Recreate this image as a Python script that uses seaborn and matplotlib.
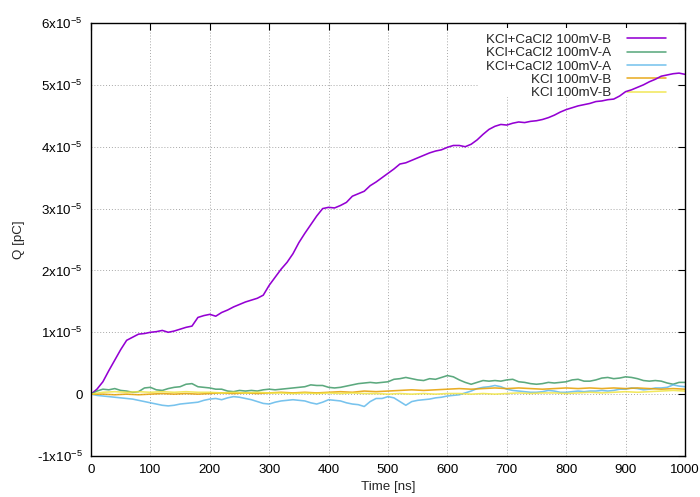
import numpy as np
import matplotlib
matplotlib.use("Agg")
import matplotlib.pyplot as plt
import seaborn as sns
from matplotlib.patches import Rectangle
from matplotlib.ticker import FixedLocator, FuncFormatter

# Charge traces Q(t), values in units of 1e-5 pC
SCALE = 1e-5

time_10ns = np.arange(0, 1001, 10)
time_20ns = np.arange(0, 1001, 20)

q_cacl2_b = [
    0.00, 0.08, 0.20, 0.38, 0.55, 0.72, 0.87, 0.92, 0.97, 0.98,
    1.00, 1.01, 1.03, 1.00, 1.02, 1.05, 1.08, 1.10, 1.24, 1.27,
    1.29, 1.26, 1.32, 1.36, 1.41, 1.45, 1.49, 1.52, 1.55, 1.60,
    1.76, 1.89, 2.02, 2.13, 2.27, 2.45, 2.60, 2.74, 2.88, 3.00,
    3.02, 3.01, 3.05, 3.10, 3.20, 3.24, 3.28, 3.37, 3.43, 3.50,
    3.57, 3.64, 3.72, 3.74, 3.78, 3.82, 3.86, 3.90, 3.93, 3.95,
    3.99, 4.02, 4.02, 4.00, 4.04, 4.11, 4.20, 4.28, 4.33, 4.36,
    4.35, 4.38, 4.40, 4.39, 4.41, 4.42, 4.44, 4.47, 4.51, 4.56,
    4.60, 4.63, 4.66, 4.68, 4.70, 4.73, 4.74, 4.76, 4.77, 4.82,
    4.89, 4.92, 4.96, 5.00, 5.05, 5.09, 5.14, 5.16, 5.18, 5.19,
    5.17,
]

q_cacl2_a1 = [
    0.00, 0.05, 0.08, 0.07, 0.09, 0.06, 0.05, 0.03, 0.04, 0.10,
    0.11, 0.07, 0.06, 0.09, 0.11, 0.12, 0.16, 0.17, 0.12, 0.11,
    0.10, 0.08, 0.08, 0.05, 0.04, 0.06, 0.05, 0.06, 0.05, 0.07,
    0.08, 0.07, 0.08, 0.09, 0.10, 0.11, 0.12, 0.15, 0.14, 0.14,
    0.11, 0.10, 0.11, 0.13, 0.15, 0.17, 0.18, 0.19, 0.18, 0.19,
    0.20, 0.24, 0.25, 0.27, 0.25, 0.23, 0.22, 0.25, 0.24, 0.27,
    0.30, 0.28, 0.23, 0.19, 0.16, 0.19, 0.22, 0.21, 0.22, 0.21,
    0.23, 0.24, 0.20, 0.19, 0.17, 0.16, 0.17, 0.19, 0.18, 0.19,
    0.20, 0.23, 0.24, 0.21, 0.21, 0.23, 0.26, 0.27, 0.25, 0.26,
    0.28, 0.27, 0.25, 0.22, 0.21, 0.22, 0.21, 0.18, 0.16, 0.19,
    0.19,
]

q_cacl2_a2 = [
    0.00, -0.02, -0.03, -0.04, -0.05, -0.06, -0.07, -0.08, -0.10, -0.12,
    -0.14, -0.16, -0.18, -0.19, -0.18, -0.16, -0.15, -0.14, -0.13, -0.10,
    -0.08, -0.07, -0.09, -0.06, -0.04, -0.05, -0.07, -0.09, -0.12, -0.15,
    -0.16, -0.13, -0.11, -0.10, -0.09, -0.10, -0.11, -0.14, -0.16, -0.13,
    -0.09, -0.10, -0.11, -0.14, -0.16, -0.17, -0.20, -0.12, -0.07, -0.07,
    -0.04, -0.06, -0.12, -0.18, -0.12, -0.10, -0.09, -0.08, -0.06, -0.05,
    -0.03, -0.02, -0.01, 0.02, 0.05, 0.09, 0.11, 0.12, 0.14, 0.12,
    0.08, 0.06, 0.05, 0.04, 0.03, 0.03, 0.04, 0.06, 0.05, 0.03,
    0.03, 0.04, 0.05, 0.04, 0.05, 0.05, 0.06, 0.05, 0.06, 0.08,
    0.08, 0.10, 0.09, 0.07, 0.08, 0.10, 0.10, 0.11, 0.15, 0.13,
    0.12,
]

q_kcl_b1 = [
    0.00, 0.00, -0.01, 0.00, -0.01, 0.00, 0.01, 0.00, 0.01, 0.00,
    0.01, 0.02, 0.01, 0.02, 0.01, 0.02, 0.03, 0.02, 0.03, 0.02,
    0.03, 0.04, 0.03, 0.05, 0.04, 0.05, 0.06, 0.07, 0.06, 0.07,
    0.08, 0.09, 0.08, 0.09, 0.10, 0.09, 0.10, 0.09, 0.08, 0.09,
    0.10, 0.09, 0.10, 0.09, 0.10, 0.09, 0.10, 0.09, 0.08, 0.09,
    0.08,
]

q_kcl_b2 = [
    0.00, 0.03, 0.04, 0.03, 0.04, 0.03, 0.04, 0.03, 0.04, 0.03,
    0.03, 0.02, 0.03, 0.02, 0.03, 0.02, 0.02, 0.01, 0.02, 0.01,
    0.02, 0.01, 0.02, 0.01, 0.01, 0.00, 0.01, 0.00, 0.01, 0.00,
    0.01, 0.01, 0.00, 0.01, 0.00, 0.01, 0.02, 0.01, 0.02, 0.02,
    0.01, 0.02, 0.03, 0.02, 0.03, 0.04, 0.03, 0.04, 0.05, 0.06,
    0.05,
]

series = [
    ("KCl+CaCl2 100mV-B", time_10ns, q_cacl2_b, "#9400d3", 1.0),
    ("KCl+CaCl2 100mV-A", time_10ns, q_cacl2_a1, "#3f9a68", 0.85),
    ("KCl+CaCl2 100mV-A", time_10ns, q_cacl2_a2, "#56b4e9", 0.8),
    ("KCl 100mV-B", time_20ns, q_kcl_b1, "#e69f00", 0.85),
    ("KCl 100mV-B", time_20ns, q_kcl_b2, "#f0e442", 0.85),
]

x_ticks = [0, 100, 200, 300, 400, 500, 600, 700, 800, 900, 1000]
y_ticks = [-1, 0, 1, 2, 3, 4, 5, 6]

sns.set_theme(style="white")
plt.rcParams["font.family"] = ["Liberation Sans", "DejaVu Sans"]
plt.rcParams["mathtext.fontset"] = "custom"
plt.rcParams["mathtext.rm"] = "Liberation Sans"
plt.rcParams["mathtext.it"] = "Liberation Sans:italic"

FS = 9.6

fig = plt.figure(figsize=(7.0, 4.97), dpi=100)
ax = fig.add_axes([91 / 700, 1 - 456 / 497, 594 / 700, 433 / 497])
ax.set_axisbelow(True)

for label, t, q, color, alpha in series:
    sns.lineplot(x=t, y=np.asarray(q) * SCALE, ax=ax, color=color, alpha=alpha,
                 linewidth=1.15, estimator=None, sort=False, label=label,
                 legend=False, zorder=2)

ax.set_xlim(0, 1000)
ax.set_ylim(-1 * SCALE, 6 * SCALE)
ax.xaxis.set_major_locator(FixedLocator(x_ticks))
ax.yaxis.set_major_locator(FixedLocator([v * SCALE for v in y_ticks]))


def sci_label(val, pos):
    k = int(round(val / SCALE))
    if k == 0:
        return "0"
    return f"{k}x10$^{{-5}}$"


ax.yaxis.set_major_formatter(FuncFormatter(sci_label))

ax.grid(True, color="#a8a8a8", linestyle=(0, (1, 2)), linewidth=0.7)
ax.tick_params(direction="in", length=5, width=0.8, top=True, right=True,
               labelsize=FS, colors="black", pad=6)
for sp in ax.spines.values():
    sp.set_color("black")
    sp.set_linewidth(1.0)
    sp.set_zorder(3)

ax.set_xlabel("Time [ns]", fontsize=FS)
ax.set_ylabel("Q [pC]", fontsize=FS)
ax.xaxis.set_label_coords(0.5, (456 - 481) / 433)
ax.yaxis.set_label_coords((25 - 91) / 594, 0.5)

# opaque key area: hides the grid but the traces run over it
ax.add_patch(Rectangle((0.652, 0.83), 0.333, 0.158, transform=ax.transAxes,
                       facecolor="white", edgecolor="none", zorder=1))

handles = ax.get_lines()[:len(series)]
labels = [s[0] for s in series]
leg = ax.legend(handles, labels, loc="upper right", bbox_to_anchor=(0.968, 0.975),
                frameon=False, markerfirst=False, handlelength=2.9,
                handletextpad=1.2, labelspacing=0.07, borderpad=0,
                borderaxespad=0, fontsize=FS)
leg.set_zorder(1.5)

fig.savefig("out.png", dpi=100)
